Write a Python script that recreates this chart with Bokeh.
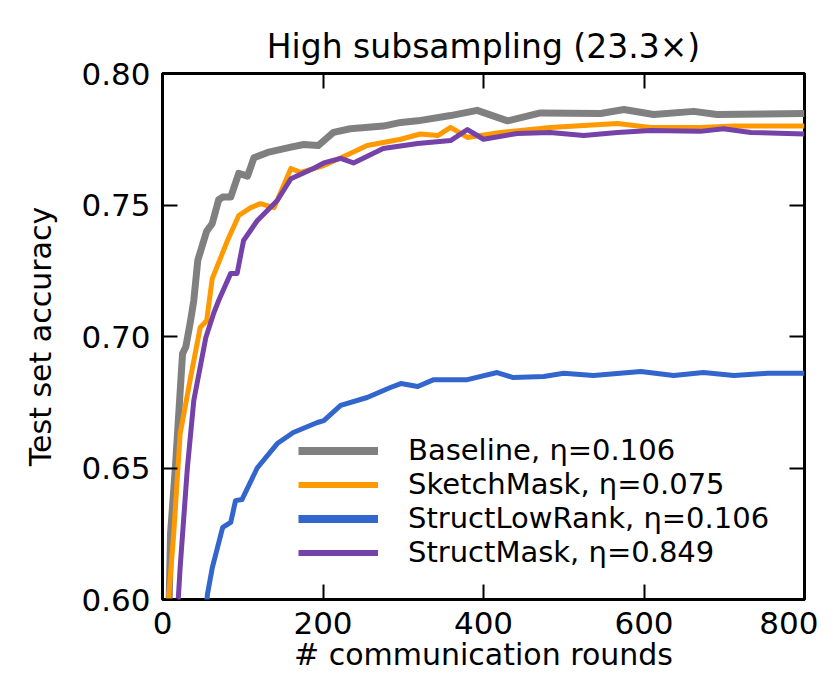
from bokeh.plotting import figure
from bokeh.models import Range1d, LinearAxis, FixedTicker, Legend, LegendItem
from bokeh.embed import file_html
from bokeh.resources import INLINE

# ---------------- data ----------------
baseline_x = [5, 10, 16, 25, 29, 35, 39, 44, 55, 62, 70, 75, 85, 95, 106, 114, 131, 160, 176, 194,
              213, 234, 275, 297, 318, 359, 392, 430, 471, 546, 575, 612, 662, 691, 800]
baseline_y = [0.55, 0.625, 0.650, 0.6935, 0.696, 0.706, 0.7137, 0.729, 0.740, 0.743, 0.752, 0.753,
              0.753, 0.762, 0.761, 0.768, 0.770, 0.772, 0.773, 0.7726, 0.7776, 0.779, 0.780, 0.7814,
              0.782, 0.784, 0.786, 0.782, 0.785, 0.7848, 0.7863, 0.7844, 0.7856, 0.7844, 0.7848]

sketch_x = [5, 8, 14, 22, 35, 47, 55, 62, 81, 95, 110, 122, 139, 160, 172, 201, 234, 255, 297, 321,
            343, 359, 380, 421, 483, 567, 608, 670, 712, 800]
sketch_y = [0.57, 0.602, 0.625, 0.663, 0.6844, 0.7034, 0.706, 0.722, 0.7365, 0.746, 0.749, 0.7505,
            0.749, 0.7639, 0.7624, 0.765, 0.7696, 0.7726, 0.7750, 0.777, 0.7764, 0.7795, 0.7757,
            0.7776, 0.7795, 0.781, 0.7795, 0.7795, 0.780, 0.780]

lowrank_x = [50, 56, 62, 75, 85, 91, 99, 118, 143, 163, 193, 201, 222, 255, 284, 297, 318, 338, 380,
             417, 437, 475, 500, 537, 596, 637, 674, 712, 754, 800]
lowrank_y = [0.58, 0.602, 0.612, 0.6274, 0.6293, 0.6376, 0.638, 0.650, 0.6593, 0.6635, 0.6673, 0.668,
             0.6738, 0.6768, 0.6806, 0.6821, 0.681, 0.6836, 0.6836, 0.6863, 0.6844, 0.6848, 0.686,
             0.6852, 0.6867, 0.6852, 0.6863, 0.6852, 0.686, 0.686]

structmask_x = [16, 20, 22, 31, 39, 54, 64, 70, 85, 93, 101, 118, 143, 160, 188, 201, 222, 238, 275,
                318, 359, 380, 400, 442, 483, 525, 567, 608, 670, 699, 733, 800]
structmask_y = [0.58, 0.602, 0.6122, 0.650, 0.6757, 0.6996, 0.709, 0.7137, 0.724, 0.724, 0.7365, 0.744,
                0.7517, 0.760, 0.7639, 0.766, 0.7677, 0.766, 0.7715, 0.7734, 0.7745, 0.7787, 0.775,
                0.7772, 0.7776, 0.7764, 0.7776, 0.7783, 0.778, 0.779, 0.7776, 0.777]

series_names = ["Baseline, η=0.106", "SketchMask, η=0.075", "StructLowRank, η=0.106", "StructMask, η=0.849"]

x_ticks = [0, 200, 400, 600, 800]
y_ticks = [0.60, 0.65, 0.70, 0.75, 0.80]
y_tick_labels = ["0.60", "0.65", "0.70", "0.75", "0.80"]

title_text = "High subsampling (23.3×)"
x_label = "# communication rounds"
y_label = "Test set accuracy"

# ---------------- styling ----------------
FONT = "DejaVu Sans"
colors = ["#808080", "#ff9900", "#3366cc", "#7442a8"]
plot_widths = [7, 5, 5, 5]
legend_widths = [8, 6, 8, 6]

p = figure(width=818, height=679, output_backend="svg", toolbar_location=None,
           x_range=Range1d(0, 800), y_range=Range1d(0.60, 0.80),
           min_border_left=162, min_border_right=14, min_border_top=73, min_border_bottom=80)

p.title.text = title_text
p.title.text_font = FONT
p.title.text_font_size = "33px"
p.title.text_font_style = "normal"
p.title.align = "center"
p.title.text_color = "black"
p.title.standoff = 15

p.xgrid.visible = False
p.ygrid.visible = False
p.outline_line_color = "black"
p.outline_line_width = 3
p.background_fill_color = "white"
p.border_fill_color = "white"

def style_axis(ax, show_labels=True):
    ax.axis_line_color = None
    ax.major_tick_in = 15
    ax.major_tick_out = 0
    ax.major_tick_line_width = 2
    ax.major_tick_line_color = "black"
    ax.minor_tick_line_color = None
    if show_labels:
        ax.major_label_text_font = FONT
        ax.major_label_text_font_size = "31px"
        ax.major_label_text_color = "black"
    else:
        ax.major_label_text_font_size = "0px"
        ax.major_label_text_alpha = 0

p.xaxis.ticker = FixedTicker(ticks=x_ticks)
p.yaxis.ticker = FixedTicker(ticks=y_ticks)
p.yaxis.major_label_overrides = {t: l for t, l in zip(y_ticks, y_tick_labels)}
style_axis(p.xaxis[0])
style_axis(p.yaxis[0])
p.xaxis.major_label_standoff = 12
p.yaxis.major_label_standoff = 12

p.xaxis.axis_label = x_label
p.yaxis.axis_label = y_label
for ax in (p.xaxis[0], p.yaxis[0]):
    ax.axis_label_text_font = FONT
    ax.axis_label_text_font_size = "30px"
    ax.axis_label_text_font_style = "normal"
    ax.axis_label_text_color = "black"
p.xaxis.axis_label_standoff = 0
p.yaxis.axis_label_standoff = 20

top_ax = LinearAxis(ticker=FixedTicker(ticks=x_ticks))
style_axis(top_ax, show_labels=False)
p.add_layout(top_ax, "above")
right_ax = LinearAxis(ticker=FixedTicker(ticks=y_ticks))
style_axis(right_ax, show_labels=False)
p.add_layout(right_ax, "right")

series = [(baseline_x, baseline_y), (sketch_x, sketch_y), (lowrank_x, lowrank_y), (structmask_x, structmask_y)]
for (xs, ys), c, w in zip(series, colors, plot_widths):
    p.line(xs, ys, line_color=c, line_width=w, line_join="round")

# legend-only renderers (placed outside the visible range)
items = []
for name, c, w in zip(series_names, colors, legend_widths):
    r = p.line([-200, -100], [0.5, 0.5], line_color=c, line_width=w)
    items.append(LegendItem(label=name, renderers=[r]))

legend = Legend(items=items, location=(136, 30), padding=0, margin=0, spacing=0,
                glyph_width=80, glyph_height=33, label_height=33, label_standoff=30,
                label_text_font=FONT, label_text_font_size="29px", label_text_color="black",
                border_line_alpha=0, background_fill_alpha=0)
p.add_layout(legend, "center")

open("out.html", "w").write(file_html(p, INLINE))
